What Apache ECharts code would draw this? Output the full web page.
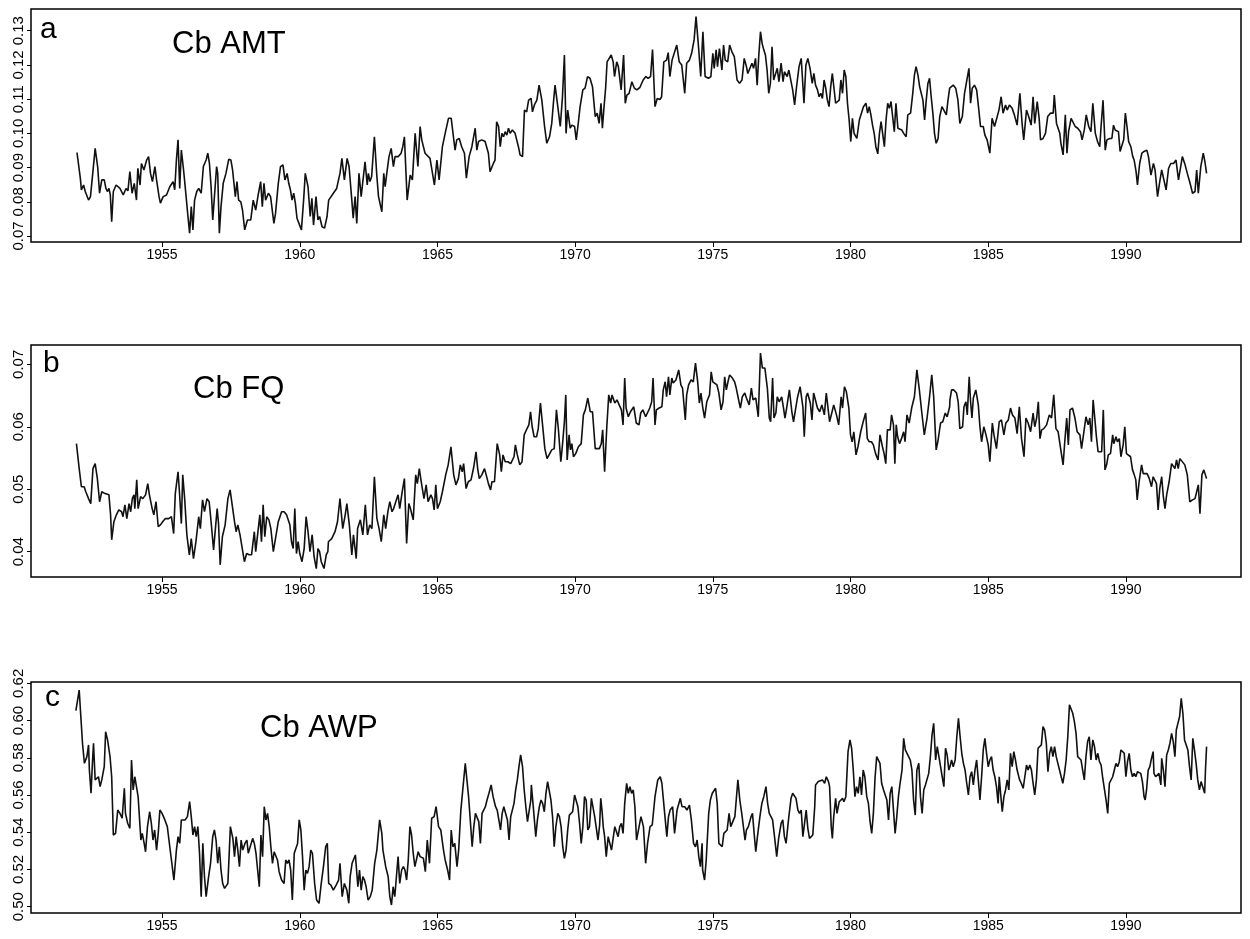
<!DOCTYPE html>
<html>
<head>
<meta charset="utf-8">
<script src="https://cdn.jsdelivr.net/npm/echarts@6/dist/echarts.min.js"></script>
<style>
  html, body { margin: 0; padding: 0; background: #fff; }
  #chart { width: 1250px; height: 939px; }
</style>
</head>
<body>
<div id="chart"></div>
<script>
// tick labels
var yearTicks = [1955, 1960, 1965, 1970, 1975, 1980, 1985, 1990];
var amtTicks = [0.07, 0.08, 0.09, 0.10, 0.11, 0.12, 0.13];
var fqTicks = [0.04, 0.05, 0.06, 0.07];
var awpTicks = [0.50, 0.52, 0.54, 0.56, 0.58, 0.60, 0.62];

// Cb AMT, [year, value]
var cbAmt = [
[1951.91,0.0944],[1952.03,0.0870],[1952.07,0.0835],[1952.15,0.0849],[1952.21,0.0830],[1952.33,0.0805],[1952.40,0.0815],[1952.57,0.0956],[1952.66,0.0903],[1952.73,0.0825],[1952.81,0.0864],[1952.90,0.0864],[1952.96,0.0839],[1953.02,0.0830],[1953.07,0.0839],[1953.12,0.0820],[1953.17,0.0742],[1953.23,0.0830],[1953.33,0.0849],[1953.47,0.0839],[1953.59,0.0820],[1953.69,0.0839],[1953.76,0.0832],[1953.83,0.0888],[1953.91,0.0825],[1953.99,0.0854],[1954.07,0.0805],[1954.12,0.0898],[1954.20,0.0849],[1954.25,0.0912],[1954.34,0.0893],[1954.44,0.0922],[1954.51,0.0932],[1954.58,0.0883],[1954.65,0.0859],[1954.74,0.0903],[1954.80,0.0864],[1954.89,0.0815],[1954.94,0.0796],[1955.04,0.0815],[1955.16,0.0820],[1955.28,0.0844],[1955.40,0.0859],[1955.46,0.0835],[1955.52,0.0922],[1955.58,0.0981],[1955.64,0.0839],[1955.70,0.0951],[1955.78,0.0893],[1955.85,0.0835],[1955.94,0.0757],[1956.00,0.0708],[1956.06,0.0786],[1956.12,0.0718],[1956.18,0.0805],[1956.26,0.0830],[1956.33,0.0839],[1956.42,0.0825],[1956.50,0.0903],[1956.60,0.0922],[1956.66,0.0942],[1956.72,0.0912],[1956.78,0.0844],[1956.84,0.0747],[1956.90,0.0752],[1956.98,0.0903],[1957.02,0.0883],[1957.08,0.0708],[1957.14,0.0786],[1957.22,0.0854],[1957.32,0.0883],[1957.42,0.0924],[1957.50,0.0922],[1957.56,0.0893],[1957.66,0.0815],[1957.72,0.0859],[1957.78,0.0805],[1957.86,0.0800],[1957.92,0.0776],[1958.00,0.0718],[1958.10,0.0747],[1958.22,0.0747],[1958.31,0.0805],[1958.40,0.0776],[1958.50,0.0825],[1958.58,0.0859],[1958.64,0.0786],[1958.70,0.0854],[1958.76,0.0805],[1958.86,0.0825],[1958.94,0.0815],[1959.06,0.0737],[1959.12,0.0766],[1959.22,0.0854],[1959.30,0.0903],[1959.39,0.0908],[1959.46,0.0864],[1959.54,0.0883],[1959.60,0.0854],[1959.66,0.0835],[1959.72,0.0805],[1959.78,0.0825],[1959.84,0.0796],[1959.90,0.0752],[1959.96,0.0752],[1960.06,0.0718],[1960.14,0.0805],[1960.20,0.0883],[1960.30,0.0844],[1960.38,0.0757],[1960.44,0.0810],[1960.50,0.0732],[1960.59,0.0815],[1960.66,0.0747],[1960.72,0.0757],[1960.81,0.0727],[1960.90,0.0723],[1960.99,0.0757],[1961.05,0.0805],
[1961.10,0.0810],[1961.22,0.0825],[1961.34,0.0839],[1961.46,0.0883],[1961.53,0.0927],[1961.62,0.0864],[1961.72,0.0927],[1961.79,0.0903],[1961.89,0.0805],[1961.94,0.0752],[1962.01,0.0815],[1962.07,0.0737],[1962.15,0.0883],[1962.23,0.0815],[1962.28,0.0820],[1962.37,0.0917],[1962.45,0.0849],[1962.49,0.0883],[1962.55,0.0859],[1962.61,0.0874],[1962.71,0.0990],[1962.80,0.0874],[1962.86,0.0815],[1962.98,0.0771],[1963.05,0.0883],[1963.10,0.0844],[1963.16,0.0883],[1963.24,0.0932],[1963.32,0.0956],[1963.40,0.0903],[1963.46,0.0932],[1963.58,0.0932],[1963.68,0.0942],[1963.74,0.0961],[1963.80,0.0990],[1963.90,0.0805],[1964.01,0.0878],[1964.09,0.0864],[1964.19,0.1000],[1964.29,0.0903],[1964.37,0.1020],[1964.43,0.0981],[1964.55,0.0942],[1964.61,0.0947],[1964.73,0.0927],[1964.89,0.0849],[1964.98,0.0922],[1965.06,0.0864],[1965.18,0.0961],[1965.28,0.1000],[1965.40,0.1044],[1965.50,0.1044],[1965.58,0.0990],[1965.64,0.0951],[1965.70,0.0981],[1965.79,0.0985],[1965.88,0.0961],[1965.98,0.0942],[1966.05,0.0869],[1966.15,0.0932],[1966.25,0.0961],[1966.37,0.1015],[1966.43,0.0951],[1966.49,0.0976],[1966.61,0.0981],[1966.73,0.0976],[1966.85,0.0942],[1966.91,0.0888],[1967.03,0.0912],[1967.09,0.0922],[1967.15,0.1034],[1967.22,0.1020],[1967.28,0.0961],[1967.34,0.1000],[1967.40,0.0990],[1967.46,0.1005],[1967.52,0.0995],[1967.58,0.1015],[1967.64,0.1000],[1967.72,0.1010],[1967.82,0.1000],[1967.94,0.0961],[1968.00,0.0937],[1968.09,0.0932],[1968.16,0.1068],[1968.24,0.1063],[1968.31,0.1097],[1968.40,0.1102],[1968.45,0.1063],[1968.52,0.1083],[1968.61,0.1097],[1968.69,0.1141],[1968.79,0.1097],[1968.89,0.1020],[1968.97,0.0971],[1969.07,0.0990],[1969.15,0.1029],[1969.21,0.1088],[1969.27,0.1141],[1969.37,0.1078],[1969.46,0.1020],[1969.54,0.1107],[1969.61,0.1229],[1969.67,0.1000],[1969.73,0.1068],[1969.82,0.1015],[1969.88,0.1024],[1969.98,0.1020],[1970.04,0.0981],[1970.10,0.1020],[1970.18,0.1078],[1970.28,0.1127],[1970.36,0.1132],[1970.45,0.1166],[1970.54,0.1161],[1970.63,0.1136],[1970.73,0.1049],[1970.80,0.1059],[1970.87,0.1029],[1970.94,0.1088],[1970.99,0.1015],[1971.04,0.1068],[1971.11,0.1136],[1971.16,0.1209],[1971.23,0.1205],[1971.31,0.1229],[1971.38,0.1209],[1971.43,0.1166],[1971.51,0.1209],[1971.57,0.1195],[1971.67,0.1127],[1971.76,0.1229],[1971.82,0.1088],[1971.88,0.1112],[1971.96,0.1117],[1972.06,0.1151],[1972.15,0.1132],[1972.24,0.1127],
[1972.35,0.1134],[1972.47,0.1156],[1972.57,0.1166],[1972.65,0.1161],[1972.74,0.1166],[1972.81,0.1245],[1972.90,0.1078],[1972.98,0.1102],[1973.08,0.1099],[1973.14,0.1107],[1973.22,0.1209],[1973.32,0.1214],[1973.38,0.1236],[1973.44,0.1166],[1973.52,0.1214],[1973.59,0.1219],[1973.69,0.1258],[1973.78,0.1209],[1973.87,0.1200],[1973.93,0.1195],[1973.98,0.1117],[1974.05,0.1205],[1974.15,0.1214],[1974.23,0.1234],[1974.32,0.1273],[1974.39,0.1341],[1974.48,0.1253],[1974.56,0.1166],[1974.64,0.1297],[1974.72,0.1166],[1974.84,0.1161],[1974.93,0.1166],[1975.00,0.1234],[1975.05,0.1190],[1975.12,0.1244],[1975.17,0.1195],[1975.24,0.1248],[1975.33,0.1185],[1975.39,0.1258],[1975.45,0.1214],[1975.54,0.1209],[1975.61,0.1258],[1975.69,0.1239],[1975.78,0.1224],[1975.88,0.1156],[1975.97,0.1146],[1976.06,0.1156],[1976.14,0.1219],[1976.22,0.1195],[1976.27,0.1175],[1976.34,0.1170],[1976.42,0.1205],[1976.48,0.1190],[1976.55,0.1219],[1976.61,0.1141],[1976.67,0.1229],[1976.73,0.1297],[1976.79,0.1263],[1976.85,0.1244],[1976.91,0.1229],[1976.97,0.1185],[1977.03,0.1117],[1977.09,0.1146],[1977.15,0.1253],[1977.21,0.1156],[1977.27,0.1151],[1977.34,0.1190],[1977.40,0.1151],[1977.48,0.1205],[1977.55,0.1151],[1977.60,0.1180],[1977.70,0.1166],[1977.76,0.1185],[1977.82,0.1185],[1977.90,0.1127],[1977.97,0.1083],[1978.04,0.1136],[1978.13,0.1195],[1978.21,0.1219],[1978.31,0.1088],[1978.38,0.1200],[1978.45,0.1219],[1978.53,0.1190],[1978.61,0.1146],[1978.67,0.1175],[1978.73,0.1141],[1978.80,0.1127],[1978.86,0.1107],[1978.92,0.1117],[1978.98,0.1102],[1979.04,0.1156],[1979.10,0.1132],[1979.16,0.1097],[1979.22,0.1078],[1979.28,0.1136],[1979.34,0.1175],[1979.40,0.1170],[1979.46,0.1088],[1979.53,0.1083],[1979.59,0.1097],[1979.65,0.1156],[1979.71,0.1117],[1979.77,0.1185],[1979.83,0.1166],[1979.89,0.1088],[1979.95,0.1039],[1980.01,0.0976],[1980.07,0.1044],[1980.13,0.1000],[1980.23,0.0985],[1980.32,0.1039],[1980.38,0.1044],[1980.47,0.1078],[1980.56,0.1088],[1980.62,0.1059],[1980.68,0.1078],[1980.74,0.1054],[1980.80,0.1024],[1980.86,0.1000],[1980.92,0.0961],[1980.99,0.0940],[1981.05,0.1000],[1981.11,0.1034],[1981.17,0.1029],[1981.23,0.0961],[1981.29,0.1039],[1981.35,0.1088],[1981.41,0.1073],[1981.47,0.1093],[1981.53,0.1049],[1981.59,0.1005],[1981.65,0.1088],[1981.72,0.1015],[1981.86,0.1010],[1981.93,0.1000],[1982.02,0.0990],[1982.08,0.1054],[1982.18,0.1059],[1982.26,0.1117],[1982.32,0.1170],[1982.38,0.1195],[1982.45,0.1170],[1982.51,0.1136],[1982.57,0.1132],[1982.63,0.1097],[1982.69,0.1039],[1982.75,0.1097],[1982.81,0.1146],[1982.87,0.1161],[1982.93,0.1107],[1982.99,0.1059],[1983.05,0.1000],[1983.11,0.0971],[1983.18,0.0985],[1983.24,0.1049],[1983.32,0.1078],[1983.39,0.1073],[1983.48,0.1054],[1983.54,0.1097],[1983.60,0.1132],
[1983.64,0.1127],[1983.73,0.1141],[1983.82,0.1132],[1983.90,0.1097],[1983.97,0.1029],[1984.06,0.1049],[1984.14,0.1117],[1984.21,0.1112],[1984.30,0.1190],[1984.36,0.1088],[1984.42,0.1132],[1984.50,0.1141],[1984.58,0.1127],[1984.66,0.1068],[1984.72,0.1020],[1984.82,0.1020],[1984.88,0.0995],[1984.96,0.0981],[1985.06,0.0942],[1985.14,0.1044],[1985.23,0.1020],[1985.30,0.1024],[1985.39,0.1068],[1985.47,0.1107],[1985.54,0.1059],[1985.63,0.1083],[1985.69,0.1068],[1985.77,0.1083],[1985.87,0.1073],[1985.95,0.1054],[1986.05,0.1024],[1986.15,0.1117],[1986.23,0.1029],[1986.29,0.0981],[1986.39,0.1068],[1986.47,0.1049],[1986.56,0.1024],[1986.63,0.1107],[1986.69,0.1029],[1986.78,0.1093],[1986.85,0.1044],[1986.90,0.0981],[1986.99,0.0985],[1987.08,0.1000],[1987.16,0.1049],[1987.26,0.1059],[1987.36,0.1059],[1987.40,0.1112],[1987.48,0.1029],[1987.52,0.1024],[1987.60,0.1000],[1987.64,0.0971],[1987.72,0.0937],[1987.80,0.1054],[1987.86,0.0942],[1987.92,0.1005],[1988.01,0.1044],[1988.08,0.1044],[1988.16,0.1020],[1988.25,0.1015],[1988.35,0.1005],[1988.41,0.0981],[1988.49,0.1010],[1988.56,0.1054],[1988.65,0.1020],[1988.73,0.1005],[1988.80,0.1088],[1988.89,0.1000],[1988.97,0.0976],[1989.05,0.0961],[1989.09,0.1010],[1989.17,0.1097],[1989.25,0.0951],[1989.31,0.0981],[1989.41,0.0985],[1989.49,0.0985],[1989.55,0.1024],[1989.61,0.1010],[1989.67,0.1015],[1989.73,0.1005],[1989.79,0.0947],[1989.86,0.0947],[1989.92,0.0981],[1989.98,0.1059],[1990.04,0.1020],[1990.10,0.0976],[1990.18,0.0961],[1990.25,0.0932],[1990.30,0.0922],[1990.37,0.0888],[1990.42,0.0849],[1990.50,0.0912],[1990.58,0.0942],[1990.66,0.0947],[1990.76,0.0951],[1990.82,0.0932],[1990.91,0.0878],[1991.00,0.0912],[1991.06,0.0893],[1991.15,0.0815],[1991.22,0.0854],[1991.30,0.0893],[1991.36,0.0893],[1991.46,0.0835],[1991.55,0.0898],[1991.63,0.0912],[1991.73,0.0912],[1991.82,0.0922],[1991.91,0.0864],[1991.97,0.0893],[1992.05,0.0932],[1992.15,0.0908],[1992.23,0.0883],[1992.33,0.0854],[1992.42,0.0825],[1992.51,0.0830],[1992.57,0.0893],[1992.63,0.0825],[1992.72,0.0903],[1992.81,0.0942],[1992.87,0.0917],[1992.93,0.0883]
];

// Cb FQ
var cbFq = [
[1951.89,0.0573],[1951.99,0.0533],[1952.07,0.0504],[1952.17,0.0504],[1952.23,0.0496],[1952.33,0.0485],[1952.41,0.0477],[1952.49,0.0533],[1952.57,0.0541],[1952.65,0.0517],[1952.73,0.0480],[1952.81,0.0496],[1952.93,0.0493],[1953.07,0.0491],[1953.13,0.0459],[1953.17,0.0419],[1953.25,0.0448],[1953.34,0.0459],[1953.43,0.0467],[1953.53,0.0464],[1953.58,0.0456],[1953.65,0.0475],[1953.72,0.0453],[1953.80,0.0477],[1953.86,0.0464],[1953.92,0.0485],[1953.98,0.0491],[1954.01,0.0469],[1954.08,0.0515],[1954.13,0.0469],[1954.22,0.0488],[1954.30,0.0485],[1954.40,0.0491],[1954.48,0.0509],[1954.54,0.0491],[1954.64,0.0469],[1954.70,0.0459],[1954.78,0.0480],[1954.86,0.0440],[1954.94,0.0443],[1955.02,0.0448],[1955.12,0.0453],[1955.24,0.0453],[1955.34,0.0456],[1955.42,0.0429],[1955.48,0.0493],[1955.58,0.0528],[1955.63,0.0496],[1955.70,0.0445],[1955.75,0.0523],[1955.82,0.0485],[1955.90,0.0427],[1955.99,0.0395],[1956.06,0.0421],[1956.14,0.0389],[1956.23,0.0416],[1956.33,0.0456],[1956.39,0.0437],[1956.47,0.0483],[1956.54,0.0464],[1956.63,0.0485],[1956.71,0.0480],[1956.78,0.0448],[1956.87,0.0403],[1956.93,0.0403],[1957.00,0.0469],[1957.05,0.0445],[1957.11,0.0379],[1957.19,0.0424],[1957.29,0.0443],[1957.39,0.0485],[1957.47,0.0499],[1957.53,0.0501],[1957.63,0.0448],[1957.69,0.0432],[1957.75,0.0443],[1957.83,0.0427],[1957.89,0.0427],[1957.99,0.0384],[1958.07,0.0397],[1958.16,0.0395],[1958.25,0.0395],[1958.35,0.0432],[1958.40,0.0400],[1958.47,0.0400],[1958.55,0.0459],[1958.61,0.0416],[1958.67,0.0475],[1958.73,0.0424],[1958.80,0.0456],[1958.88,0.0451],[1958.95,0.0437],[1959.04,0.0400],[1959.10,0.0416],[1959.22,0.0448],[1959.34,0.0464],[1959.43,0.0464],[1959.52,0.0459],[1959.58,0.0461],[1959.64,0.0443],[1959.70,0.0416],[1959.76,0.0405],[1959.82,0.0469],[1959.88,0.0397],[1959.94,0.0416],[1960.00,0.0397],[1960.08,0.0384],[1960.16,0.0405],[1960.23,0.0456],[1960.30,0.0432],[1960.37,0.0400],[1960.45,0.0427],[1960.52,0.0392],[1960.60,0.0373],[1960.66,0.0405],[1960.72,0.0400],[1960.78,0.0384],[1960.88,0.0373],[1960.96,0.0395],[1961.02,0.0400],
[1961.04,0.0416],[1961.16,0.0421],[1961.28,0.0432],[1961.37,0.0448],[1961.46,0.0485],[1961.56,0.0437],[1961.65,0.0459],[1961.71,0.0477],[1961.80,0.0443],[1961.89,0.0395],[1961.95,0.0427],[1962.05,0.0389],[1962.10,0.0437],[1962.20,0.0451],[1962.29,0.0427],[1962.38,0.0475],[1962.46,0.0427],[1962.54,0.0443],[1962.62,0.0437],[1962.71,0.0520],[1962.80,0.0453],[1962.88,0.0437],[1962.96,0.0416],[1963.05,0.0459],[1963.12,0.0437],[1963.20,0.0464],[1963.27,0.0480],[1963.35,0.0464],[1963.41,0.0469],[1963.51,0.0483],[1963.57,0.0491],[1963.63,0.0469],[1963.72,0.0496],[1963.80,0.0517],[1963.88,0.0413],[1963.96,0.0477],[1964.02,0.0469],[1964.12,0.0451],[1964.21,0.0523],[1964.27,0.0509],[1964.34,0.0533],[1964.41,0.0512],[1964.51,0.0485],[1964.59,0.0507],[1964.66,0.0480],[1964.76,0.0491],[1964.82,0.0485],[1964.88,0.0467],[1964.94,0.0507],[1965.00,0.0469],[1965.10,0.0480],[1965.18,0.0496],[1965.30,0.0523],[1965.39,0.0539],[1965.49,0.0568],[1965.59,0.0523],[1965.67,0.0507],[1965.76,0.0517],[1965.83,0.0539],[1965.90,0.0528],[1965.95,0.0541],[1966.04,0.0501],[1966.12,0.0512],[1966.22,0.0515],[1966.32,0.0536],[1966.40,0.0560],[1966.46,0.0533],[1966.52,0.0517],[1966.61,0.0523],[1966.71,0.0533],[1966.77,0.0523],[1966.85,0.0509],[1966.93,0.0499],[1966.98,0.0512],[1967.07,0.0512],[1967.17,0.0573],[1967.26,0.0555],[1967.32,0.0528],[1967.38,0.0555],[1967.46,0.0544],[1967.56,0.0544],[1967.66,0.0541],[1967.78,0.0552],[1967.83,0.0571],[1967.90,0.0555],[1967.99,0.0539],[1968.07,0.0544],[1968.15,0.0587],[1968.23,0.0595],[1968.32,0.0603],[1968.38,0.0624],[1968.44,0.0600],[1968.51,0.0584],[1968.60,0.0584],[1968.66,0.0597],[1968.74,0.0638],[1968.83,0.0597],[1968.90,0.0565],[1968.98,0.0549],[1969.05,0.0552],[1969.15,0.0563],[1969.24,0.0565],[1969.32,0.0627],[1969.39,0.0597],[1969.48,0.0544],[1969.54,0.0571],[1969.61,0.0608],[1969.66,0.0651],[1969.71,0.0547],[1969.78,0.0587],[1969.83,0.0563],[1969.88,0.0573],[1969.94,0.0552],[1970.02,0.0557],[1970.12,0.0568],[1970.22,0.0573],[1970.30,0.0619],[1970.37,0.0627],[1970.46,0.0646],[1970.55,0.0624],[1970.63,0.0624],[1970.73,0.0565],[1970.80,0.0568],[1970.88,0.0565],[1970.95,0.0573],[1971.00,0.0595],[1971.07,0.0528],[1971.15,0.0600],[1971.22,0.0651],[1971.29,0.0638],[1971.34,0.0651],[1971.44,0.0638],[1971.52,0.0643],[1971.59,0.0640],[1971.68,0.0627],[1971.74,0.0603],[1971.80,0.0678],[1971.85,0.0630],[1971.93,0.0616],[1972.01,0.0624],[1972.13,0.0632],[1972.22,0.0606],[1972.32,0.0603],
[1972.38,0.0622],[1972.46,0.0627],[1972.56,0.0616],[1972.62,0.0619],[1972.71,0.0630],[1972.78,0.0640],[1972.83,0.0678],[1972.90,0.0603],[1972.95,0.0627],[1973.05,0.0630],[1973.15,0.0632],[1973.20,0.0659],[1973.27,0.0672],[1973.32,0.0648],[1973.39,0.0680],[1973.44,0.0651],[1973.51,0.0678],[1973.56,0.0670],[1973.66,0.0675],[1973.76,0.0691],[1973.84,0.0667],[1973.90,0.0662],[1974.00,0.0611],[1974.05,0.0651],[1974.12,0.0667],[1974.21,0.0675],[1974.29,0.0672],[1974.37,0.0702],[1974.45,0.0672],[1974.51,0.0638],[1974.57,0.0654],[1974.63,0.0632],[1974.70,0.0614],[1974.78,0.0640],[1974.88,0.0651],[1974.94,0.0688],[1975.00,0.0672],[1975.06,0.0670],[1975.15,0.0667],[1975.22,0.0654],[1975.30,0.0627],[1975.37,0.0640],[1975.43,0.0680],[1975.49,0.0659],[1975.55,0.0672],[1975.61,0.0683],[1975.71,0.0678],[1975.79,0.0672],[1975.85,0.0662],[1975.95,0.0640],[1976.00,0.0630],[1976.07,0.0648],[1976.16,0.0654],[1976.22,0.0646],[1976.32,0.0635],[1976.40,0.0662],[1976.46,0.0643],[1976.56,0.0646],[1976.65,0.0616],[1976.73,0.0718],[1976.80,0.0694],[1976.89,0.0694],[1976.98,0.0662],[1977.05,0.0614],[1977.10,0.0608],[1977.17,0.0678],[1977.22,0.0614],[1977.29,0.0622],[1977.34,0.0648],[1977.41,0.0640],[1977.50,0.0648],[1977.56,0.0632],[1977.62,0.0614],[1977.68,0.0630],[1977.78,0.0659],[1977.87,0.0624],[1977.93,0.0608],[1977.99,0.0606],[1978.07,0.0646],[1978.17,0.0664],[1978.27,0.0632],[1978.32,0.0584],[1978.39,0.0648],[1978.44,0.0654],[1978.54,0.0638],[1978.60,0.0611],[1978.66,0.0654],[1978.72,0.0651],[1978.80,0.0630],[1978.88,0.0624],[1978.96,0.0635],[1979.05,0.0619],[1979.12,0.0654],[1979.17,0.0635],[1979.24,0.0608],[1979.33,0.0624],[1979.39,0.0635],[1979.49,0.0619],[1979.57,0.0603],[1979.66,0.0648],[1979.71,0.0630],[1979.78,0.0664],[1979.85,0.0656],[1979.94,0.0630],[1980.00,0.0587],[1980.06,0.0576],[1980.12,0.0592],[1980.20,0.0555],[1980.27,0.0568],[1980.37,0.0592],[1980.46,0.0608],[1980.55,0.0622],[1980.61,0.0581],[1980.68,0.0576],[1980.76,0.0576],[1980.83,0.0571],[1980.91,0.0557],[1981.00,0.0547],[1981.07,0.0587],[1981.16,0.0568],[1981.22,0.0557],[1981.28,0.0541],[1981.34,0.0595],[1981.44,0.0595],[1981.49,0.0619],[1981.56,0.0603],[1981.61,0.0541],[1981.66,0.0603],[1981.71,0.0584],[1981.78,0.0573],[1981.85,0.0581],[1981.93,0.0592],[1981.98,0.0576],[1982.05,0.0619],[1982.13,0.0606],[1982.22,0.0630],[1982.32,0.0648],[1982.41,0.0691],[1982.50,0.0659],[1982.59,0.0622],[1982.68,0.0587],[1982.78,0.0614],[1982.87,0.0648],[1982.95,0.0683],[1983.02,0.0648],[1983.11,0.0563],[1983.17,0.0576],[1983.27,0.0606],[1983.35,0.0608],[1983.44,0.0622],[1983.51,0.0616],[1983.60,0.0632],
[1983.61,0.0643],[1983.67,0.0659],[1983.75,0.0659],[1983.85,0.0654],[1983.91,0.0640],[1983.97,0.0597],[1984.07,0.0600],[1984.12,0.0632],[1984.19,0.0640],[1984.24,0.0619],[1984.31,0.0680],[1984.36,0.0640],[1984.41,0.0614],[1984.46,0.0646],[1984.55,0.0659],[1984.64,0.0635],[1984.70,0.0600],[1984.76,0.0576],[1984.84,0.0600],[1984.92,0.0587],[1985.00,0.0571],[1985.06,0.0544],[1985.15,0.0606],[1985.21,0.0587],[1985.30,0.0565],[1985.40,0.0608],[1985.48,0.0611],[1985.57,0.0587],[1985.64,0.0606],[1985.73,0.0611],[1985.81,0.0630],[1985.88,0.0619],[1985.97,0.0614],[1986.05,0.0589],[1986.13,0.0632],[1986.21,0.0581],[1986.30,0.0552],[1986.37,0.0614],[1986.45,0.0606],[1986.54,0.0592],[1986.63,0.0622],[1986.69,0.0600],[1986.76,0.0614],[1986.82,0.0640],[1986.88,0.0581],[1986.94,0.0595],[1987.02,0.0597],[1987.12,0.0603],[1987.22,0.0619],[1987.30,0.0614],[1987.38,0.0651],[1987.46,0.0597],[1987.54,0.0592],[1987.63,0.0565],[1987.72,0.0539],[1987.78,0.0576],[1987.85,0.0614],[1987.91,0.0571],[1987.97,0.0627],[1988.06,0.0630],[1988.15,0.0614],[1988.23,0.0592],[1988.33,0.0587],[1988.39,0.0565],[1988.45,0.0563],[1988.55,0.0616],[1988.63,0.0603],[1988.69,0.0614],[1988.75,0.0576],[1988.81,0.0643],[1988.87,0.0614],[1988.93,0.0584],[1988.99,0.0560],[1989.12,0.0560],[1989.18,0.0627],[1989.24,0.0531],[1989.30,0.0539],[1989.36,0.0555],[1989.44,0.0557],[1989.52,0.0587],[1989.56,0.0573],[1989.64,0.0584],[1989.69,0.0576],[1989.76,0.0581],[1989.82,0.0552],[1989.90,0.0571],[1989.96,0.0600],[1990.02,0.0557],[1990.08,0.0560],[1990.17,0.0552],[1990.24,0.0531],[1990.29,0.0525],[1990.36,0.0515],[1990.41,0.0483],[1990.48,0.0512],[1990.57,0.0539],[1990.63,0.0525],[1990.69,0.0528],[1990.77,0.0525],[1990.85,0.0517],[1990.93,0.0504],[1990.99,0.0520],[1991.05,0.0520],[1991.11,0.0509],[1991.17,0.0467],[1991.23,0.0501],[1991.30,0.0520],[1991.36,0.0488],[1991.42,0.0469],[1991.48,0.0491],[1991.57,0.0512],[1991.66,0.0541],[1991.72,0.0544],[1991.78,0.0533],[1991.84,0.0547],[1991.90,0.0533],[1991.96,0.0549],[1992.02,0.0547],[1992.14,0.0539],[1992.23,0.0523],[1992.32,0.0480],[1992.42,0.0483],[1992.51,0.0485],[1992.57,0.0496],[1992.63,0.0507],[1992.69,0.0461],[1992.76,0.0523],[1992.83,0.0531],[1992.93,0.0517]
];

// Cb AWP
var cbAwp = [
[1951.87,0.6053],[1951.99,0.6164],[1952.05,0.6021],[1952.11,0.5878],[1952.18,0.5770],[1952.27,0.5806],[1952.33,0.5869],[1952.36,0.5734],[1952.42,0.5609],[1952.47,0.5770],[1952.51,0.5878],[1952.57,0.5681],[1952.63,0.5681],[1952.69,0.5698],[1952.75,0.5645],[1952.81,0.5681],[1952.90,0.5752],[1952.95,0.5940],[1953.02,0.5896],[1953.11,0.5806],[1953.17,0.5698],[1953.23,0.5385],[1953.31,0.5394],[1953.39,0.5519],[1953.47,0.5501],[1953.55,0.5475],[1953.63,0.5636],[1953.67,0.5501],[1953.75,0.5448],[1953.83,0.5421],[1953.89,0.5788],[1953.95,0.5627],[1954.01,0.5698],[1954.07,0.5645],[1954.13,0.5591],[1954.23,0.5358],[1954.28,0.5394],[1954.35,0.5340],[1954.40,0.5295],[1954.47,0.5430],[1954.55,0.5510],[1954.61,0.5448],[1954.67,0.5358],[1954.73,0.5412],[1954.80,0.5304],[1954.86,0.5394],[1954.92,0.5519],[1955.00,0.5501],[1955.10,0.5466],[1955.19,0.5430],[1955.28,0.5322],[1955.34,0.5313],[1955.43,0.5143],[1955.52,0.5304],[1955.58,0.5376],[1955.64,0.5340],[1955.70,0.5466],[1955.76,0.5475],[1955.84,0.5466],[1955.92,0.5484],[1956.00,0.5564],[1956.06,0.5484],[1956.12,0.5385],[1956.18,0.5430],[1956.24,0.5376],[1956.30,0.5430],[1956.36,0.5287],[1956.42,0.5054],[1956.48,0.5340],[1956.54,0.5161],[1956.60,0.5054],[1956.69,0.5161],[1956.76,0.5233],[1956.84,0.5376],[1956.90,0.5412],[1956.96,0.5358],[1957.02,0.5233],[1957.08,0.5322],[1957.14,0.5197],[1957.20,0.5125],[1957.27,0.5098],[1957.39,0.5125],[1957.48,0.5430],[1957.57,0.5367],[1957.63,0.5269],[1957.69,0.5376],[1957.75,0.5304],[1957.81,0.5215],[1957.87,0.5358],[1957.93,0.5304],[1958.01,0.5340],[1958.08,0.5358],[1958.13,0.5287],[1958.20,0.5295],[1958.29,0.5367],[1958.35,0.5340],[1958.41,0.5287],[1958.47,0.5197],[1958.53,0.5107],[1958.59,0.5385],[1958.65,0.5269],[1958.71,0.5537],[1958.77,0.5466],[1958.83,0.5501],[1958.89,0.5430],[1958.95,0.5322],[1959.01,0.5233],[1959.07,0.5295],[1959.19,0.5251],[1959.25,0.5188],[1959.34,0.5143],[1959.43,0.5125],[1959.49,0.5251],[1959.55,0.5233],[1959.61,0.5251],[1959.67,0.5197],[1959.73,0.5036],[1959.80,0.5287],[1959.86,0.5287],[1959.92,0.5340],[1959.98,0.5466],[1960.04,0.5412],[1960.10,0.5269],[1960.16,0.5089],[1960.22,0.5197],[1960.28,0.5179],[1960.34,0.5215],[1960.40,0.5304],[1960.46,0.5287],[1960.54,0.5125],[1960.61,0.5036],[1960.70,0.5018],[1960.78,0.5125],[1960.86,0.5215],[1960.94,0.5322],[1961.00,0.5340],
[1961.05,0.5125],[1961.13,0.5116],[1961.22,0.5089],[1961.32,0.5116],[1961.41,0.5143],[1961.46,0.5233],[1961.54,0.5054],[1961.62,0.5125],[1961.71,0.5089],[1961.78,0.5018],[1961.83,0.5161],[1961.90,0.5233],[1961.95,0.5242],[1962.02,0.5278],[1962.11,0.5107],[1962.17,0.5197],[1962.23,0.5089],[1962.29,0.5161],[1962.35,0.5143],[1962.41,0.5107],[1962.48,0.5036],[1962.56,0.5054],[1962.63,0.5089],[1962.72,0.5233],[1962.80,0.5304],[1962.90,0.5466],[1962.98,0.5394],[1963.02,0.5304],[1963.12,0.5215],[1963.21,0.5161],[1963.27,0.5054],[1963.33,0.5009],[1963.39,0.5107],[1963.45,0.5054],[1963.51,0.5161],[1963.57,0.5269],[1963.63,0.5125],[1963.70,0.5197],[1963.76,0.5215],[1963.82,0.5197],[1963.88,0.5143],[1963.94,0.5251],[1964.00,0.5430],[1964.06,0.5385],[1964.12,0.5287],[1964.18,0.5215],[1964.24,0.5224],[1964.30,0.5295],[1964.37,0.5269],[1964.43,0.5278],[1964.49,0.5260],[1964.56,0.5188],[1964.63,0.5358],[1964.71,0.5233],[1964.79,0.5475],[1964.88,0.5484],[1964.95,0.5537],[1965.04,0.5430],[1965.12,0.5412],[1965.22,0.5304],[1965.28,0.5251],[1965.37,0.5197],[1965.44,0.5143],[1965.50,0.5412],[1965.56,0.5322],[1965.63,0.5340],[1965.71,0.5215],[1965.77,0.5304],[1965.85,0.5519],[1965.93,0.5645],[1966.01,0.5770],[1966.07,0.5779],[1966.13,0.5591],[1966.20,0.5448],[1966.26,0.5322],[1966.32,0.5430],[1966.38,0.5501],[1966.44,0.5492],[1966.50,0.5457],[1966.56,0.5340],[1966.62,0.5501],[1966.68,0.5519],[1966.74,0.5537],[1966.80,0.5573],[1966.87,0.5609],[1966.95,0.5654],[1967.02,0.5591],[1967.11,0.5537],[1967.17,0.5519],[1967.23,0.5466],[1967.29,0.5412],[1967.35,0.5501],[1967.41,0.5537],[1967.48,0.5546],[1967.54,0.5466],[1967.60,0.5358],[1967.66,0.5484],[1967.72,0.5484],[1967.78,0.5555],[1967.84,0.5627],[1967.90,0.5681],[1967.96,0.5752],[1968.02,0.5815],[1968.09,0.5752],[1968.15,0.5627],[1968.21,0.5537],[1968.27,0.5457],[1968.33,0.5466],[1968.39,0.5573],[1968.41,0.5654],[1968.49,0.5519],[1968.57,0.5376],[1968.63,0.5466],[1968.70,0.5537],[1968.76,0.5573],[1968.82,0.5555],[1968.88,0.5510],[1968.94,0.5609],[1969.00,0.5672],[1969.06,0.5663],[1969.12,0.5573],[1969.18,0.5484],[1969.24,0.5322],[1969.30,0.5430],[1969.37,0.5501],[1969.43,0.5484],[1969.49,0.5430],[1969.55,0.5322],[1969.61,0.5260],[1969.67,0.5304],[1969.73,0.5412],[1969.79,0.5492],[1969.85,0.5484],[1969.91,0.5510],[1969.98,0.5600],[1970.04,0.5609],[1970.10,0.5537],[1970.16,0.5448],[1970.22,0.5340],[1970.28,0.5430],[1970.34,0.5591],[1970.40,0.5573],[1970.46,0.5412],[1970.52,0.5430],[1970.59,0.5582],[1970.65,0.5573],[1970.71,0.5484],[1970.77,0.5484],[1970.83,0.5358],[1970.89,0.5439],[1970.93,0.5582],[1970.98,0.5510],[1971.02,0.5430],[1971.07,0.5376],[1971.13,0.5269],[1971.20,0.5376],[1971.26,0.5340],[1971.32,0.5304],[1971.38,0.5367],[1971.44,0.5430],[1971.50,0.5439],[1971.56,0.5376],[1971.62,0.5430],[1971.68,0.5448],[1971.74,0.5394],[1971.80,0.5555],[1971.87,0.5663],[1971.93,0.5609],[1971.99,0.5645],[1972.05,0.5609],[1972.11,0.5627],[1972.17,0.5537],[1972.23,0.5358],[1972.29,0.5358],
[1972.39,0.5484],[1972.48,0.5430],[1972.56,0.5233],[1972.63,0.5340],[1972.72,0.5430],[1972.80,0.5439],[1972.90,0.5591],[1973.00,0.5681],[1973.09,0.5698],[1973.15,0.5663],[1973.24,0.5519],[1973.33,0.5376],[1973.39,0.5484],[1973.45,0.5519],[1973.54,0.5537],[1973.61,0.5394],[1973.70,0.5519],[1973.82,0.5582],[1973.88,0.5537],[1973.98,0.5537],[1974.06,0.5519],[1974.15,0.5546],[1974.22,0.5466],[1974.30,0.5340],[1974.37,0.5322],[1974.43,0.5358],[1974.49,0.5269],[1974.55,0.5215],[1974.61,0.5340],[1974.63,0.5197],[1974.70,0.5143],[1974.76,0.5251],[1974.85,0.5501],[1974.91,0.5573],[1974.98,0.5609],[1975.04,0.5600],[1975.10,0.5636],[1975.16,0.5555],[1975.22,0.5340],[1975.28,0.5340],[1975.34,0.5322],[1975.40,0.5394],[1975.46,0.5403],[1975.52,0.5412],[1975.59,0.5501],[1975.65,0.5430],[1975.71,0.5430],[1975.80,0.5484],[1975.85,0.5573],[1975.91,0.5681],[1975.98,0.5573],[1976.05,0.5501],[1976.10,0.5501],[1976.17,0.5358],[1976.22,0.5412],[1976.29,0.5430],[1976.39,0.5484],[1976.44,0.5501],[1976.50,0.5394],[1976.56,0.5295],[1976.62,0.5376],[1976.71,0.5484],[1976.78,0.5555],[1976.85,0.5591],[1976.93,0.5645],[1976.99,0.5555],[1977.05,0.5501],[1977.11,0.5484],[1977.17,0.5466],[1977.24,0.5376],[1977.32,0.5269],[1977.39,0.5367],[1977.48,0.5448],[1977.54,0.5466],[1977.60,0.5376],[1977.66,0.5340],[1977.76,0.5484],[1977.84,0.5582],[1977.90,0.5609],[1977.96,0.5600],[1978.02,0.5582],[1978.09,0.5519],[1978.15,0.5501],[1978.21,0.5519],[1978.27,0.5376],[1978.33,0.5376],[1978.39,0.5519],[1978.45,0.5421],[1978.51,0.5367],[1978.57,0.5367],[1978.63,0.5385],[1978.70,0.5537],[1978.73,0.5654],[1978.78,0.5645],[1978.83,0.5672],[1978.90,0.5663],[1978.98,0.5681],[1979.06,0.5663],[1979.12,0.5698],[1979.20,0.5672],[1979.24,0.5645],[1979.30,0.5430],[1979.34,0.5367],[1979.39,0.5484],[1979.46,0.5582],[1979.51,0.5501],[1979.59,0.5564],[1979.63,0.5555],[1979.71,0.5582],[1979.76,0.5564],[1979.83,0.5591],[1979.91,0.5833],[1979.98,0.5896],[1980.04,0.5851],[1980.10,0.5734],[1980.16,0.5591],[1980.22,0.5645],[1980.28,0.5609],[1980.34,0.5698],[1980.40,0.5600],[1980.46,0.5734],[1980.52,0.5698],[1980.59,0.5591],[1980.65,0.5555],[1980.71,0.5457],[1980.77,0.5394],[1980.83,0.5501],[1980.89,0.5690],[1980.95,0.5806],[1981.01,0.5815],[1981.07,0.5770],[1981.13,0.5663],[1981.20,0.5627],[1981.26,0.5618],[1981.32,0.5573],[1981.38,0.5466],[1981.44,0.5609],[1981.50,0.5645],[1981.56,0.5654],[1981.62,0.5394],[1981.68,0.5484],[1981.74,0.5591],[1981.80,0.5663],[1981.87,0.5734],[1981.93,0.5904],[1981.99,0.5842],[1982.05,0.5833],[1982.11,0.5806],[1982.17,0.5788],[1982.23,0.5734],[1982.29,0.5573],[1982.35,0.5492],[1982.41,0.5734],[1982.48,0.5770],[1982.54,0.5591],[1982.60,0.5501],[1982.66,0.5627],[1982.72,0.5654],[1982.78,0.5663],[1982.84,0.5716],[1982.90,0.5806],[1982.96,0.5922],[1983.02,0.5985],[1983.09,0.5788],[1983.15,0.5860],[1983.21,0.5806],[1983.27,0.5752],[1983.33,0.5698],[1983.39,0.5645],[1983.45,0.5851],[1983.51,0.5815],[1983.57,0.5734],
[1983.61,0.5752],[1983.67,0.5788],[1983.73,0.5752],[1983.80,0.5788],[1983.86,0.5913],[1983.92,0.6012],[1983.98,0.5913],[1984.04,0.5824],[1984.10,0.5770],[1984.16,0.5734],[1984.22,0.5663],[1984.28,0.5600],[1984.34,0.5698],[1984.40,0.5725],[1984.46,0.5654],[1984.52,0.5734],[1984.58,0.5788],[1984.64,0.5681],[1984.70,0.5573],[1984.76,0.5698],[1984.82,0.5842],[1984.88,0.5904],[1984.94,0.5824],[1985.00,0.5752],[1985.06,0.5788],[1985.12,0.5806],[1985.18,0.5734],[1985.24,0.5698],[1985.30,0.5645],[1985.36,0.5555],[1985.40,0.5698],[1985.45,0.5609],[1985.51,0.5510],[1985.57,0.5591],[1985.63,0.5627],[1985.69,0.5681],[1985.75,0.5627],[1985.81,0.5824],[1985.87,0.5752],[1985.93,0.5833],[1985.99,0.5788],[1986.05,0.5734],[1986.14,0.5681],[1986.20,0.5663],[1986.27,0.5636],[1986.33,0.5698],[1986.39,0.5761],[1986.45,0.5734],[1986.51,0.5761],[1986.57,0.5734],[1986.63,0.5663],[1986.69,0.5600],[1986.75,0.5681],[1986.81,0.5851],[1986.87,0.5842],[1986.93,0.5869],[1986.99,0.5967],[1987.05,0.5949],[1987.11,0.5878],[1987.17,0.5725],[1987.23,0.5824],[1987.29,0.5860],[1987.35,0.5806],[1987.41,0.5860],[1987.47,0.5806],[1987.53,0.5770],[1987.59,0.5734],[1987.65,0.5698],[1987.71,0.5663],[1987.77,0.5716],[1987.83,0.5788],[1987.89,0.5913],[1987.95,0.6084],[1988.01,0.6084],[1988.07,0.6039],[1988.13,0.5994],[1988.19,0.5931],[1988.25,0.5806],[1988.31,0.5815],[1988.37,0.5788],[1988.43,0.5734],[1988.49,0.5681],[1988.55,0.5806],[1988.61,0.5887],[1988.67,0.5913],[1988.73,0.5788],[1988.80,0.5896],[1988.86,0.5860],[1988.92,0.5788],[1988.98,0.5824],[1989.04,0.5779],[1989.10,0.5761],[1989.16,0.5690],[1989.22,0.5681],[1989.28,0.5573],[1989.34,0.5501],[1989.40,0.5663],[1989.46,0.5672],[1989.52,0.5698],[1989.58,0.5734],[1989.64,0.5770],[1989.70,0.5752],[1989.76,0.5779],[1989.82,0.5842],[1989.88,0.5851],[1989.94,0.5824],[1990.00,0.5698],[1990.06,0.5779],[1990.12,0.5824],[1990.18,0.5734],[1990.24,0.5698],[1990.30,0.5716],[1990.36,0.5698],[1990.42,0.5725],[1990.48,0.5734],[1990.54,0.5716],[1990.60,0.5672],[1990.66,0.5591],[1990.70,0.5573],[1990.75,0.5627],[1990.81,0.5734],[1990.87,0.5752],[1990.93,0.5797],[1990.99,0.5833],[1991.02,0.5716],[1991.08,0.5698],[1991.14,0.5707],[1991.20,0.5716],[1991.27,0.5654],[1991.30,0.5797],[1991.36,0.5734],[1991.42,0.5645],[1991.48,0.5815],[1991.54,0.5842],[1991.60,0.5878],[1991.66,0.5931],[1991.72,0.5887],[1991.78,0.5806],[1991.83,0.5949],[1991.89,0.5958],[1991.95,0.6021],[1992.01,0.6119],[1992.07,0.6039],[1992.13,0.5896],[1992.19,0.5904],[1992.25,0.5842],[1992.31,0.5752],[1992.37,0.5681],[1992.43,0.5904],[1992.49,0.5842],[1992.55,0.5770],[1992.61,0.5681],[1992.67,0.5627],[1992.73,0.5672],[1992.80,0.5681],[1992.86,0.5609],[1992.89,0.5734],[1992.93,0.5860]
];

var chart = echarts.init(document.getElementById('chart'), null, { renderer: 'canvas' });

var FONT = 'Liberation Sans, Arial, Helvetica, sans-serif';
var panels = [
  { top: 9,   height: 233, ymin: 0.06825, ymax: 0.13634, ticks: amtTicks, data: cbAmt },
  { top: 345, height: 232, ymin: 0.03595, ymax: 0.07309, ticks: fqTicks,  data: cbFq },
  { top: 682, height: 231, ymin: 0.4966,  ymax: 0.6207,  ticks: awpTicks, data: cbAwp }
];

var grids = [], xAxes = [], yAxes = [], series = [];
for (var i = 0; i < panels.length; i++) {
  var p = panels[i];
  grids.push({
    left: 31, right: 9, top: p.top, height: p.height,
    show: true, borderColor: '#000', borderWidth: 1.5, backgroundColor: 'transparent'
  });
  xAxes.push({
    type: 'value', gridIndex: i, min: 1950.24, max: 1994.18,
    axisLine: { show: false },
    axisTick: { show: true, customValues: yearTicks, length: 5, lineStyle: { color: '#000', width: 1 } },
    axisLabel: {
      customValues: yearTicks, margin: 6, fontSize: 14, color: '#000', fontFamily: FONT,
      formatter: function (v) { return String(v); }
    },
    splitLine: { show: false }
  });
  yAxes.push({
    type: 'value', gridIndex: i, min: p.ymin, max: p.ymax,
    axisLine: { show: false },
    axisTick: { show: true, customValues: p.ticks, length: 4, lineStyle: { color: '#000', width: 1 } },
    axisLabel: {
      customValues: p.ticks, rotate: 90, margin: 5, fontSize: 15, color: '#000', fontFamily: FONT,
      formatter: function (v) { return v.toFixed(2); }
    },
    splitLine: { show: false }
  });
  series.push({
    type: 'line', xAxisIndex: i, yAxisIndex: i, data: p.data,
    showSymbol: false, animation: false,
    lineStyle: { color: '#111', width: 1.6 }
  });
}

var option = {
  backgroundColor: '#fff',
  animation: false,
  grid: grids,
  xAxis: xAxes,
  yAxis: yAxes,
  series: series,
  graphic: [
    { type: 'text', x: 40,  y: 15,  style: { text: 'a', font: '30px ' + FONT, fill: '#000' } },
    { type: 'text', x: 172, y: 29,  style: { text: 'Cb AMT', font: '31px ' + FONT, fill: '#000' } },
    { type: 'text', x: 43,  y: 349, style: { text: 'b', font: '30px ' + FONT, fill: '#000' } },
    { type: 'text', x: 193, y: 374, style: { text: 'Cb FQ', font: '31px ' + FONT, fill: '#000' } },
    { type: 'text', x: 45,  y: 683, style: { text: 'c', font: '30px ' + FONT, fill: '#000' } },
    { type: 'text', x: 260, y: 713, style: { text: 'Cb AWP', font: '31px ' + FONT, fill: '#000' } }
  ]
};

chart.setOption(option, true);
</script>
</body>
</html>
